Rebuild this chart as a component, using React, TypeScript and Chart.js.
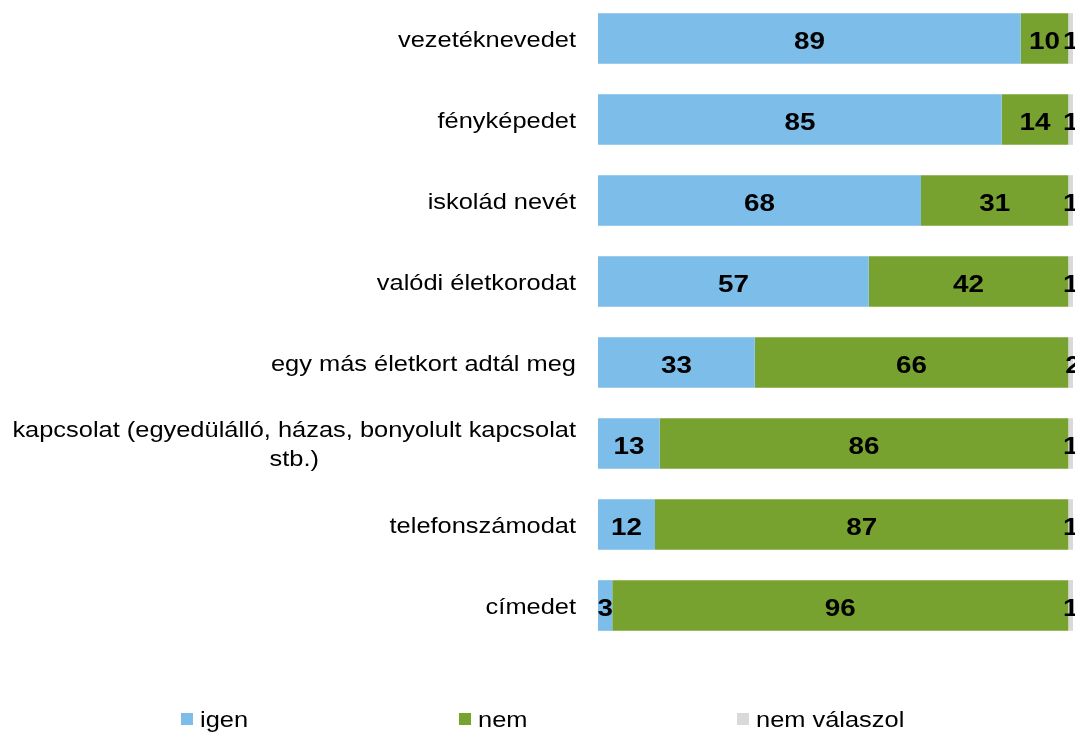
import React, { useEffect, useRef } from "react";
import { Chart, registerables } from "chart.js";

Chart.register(...registerables);

const categories: string[][] = [
  ["vezetéknevedet"],
  ["fényképedet"],
  ["iskolád nevét"],
  ["valódi életkorodat"],
  ["egy más életkort adtál meg"],
  ["kapcsolat (egyedülálló, házas, bonyolult kapcsolat", "stb.)"],
  ["telefonszámodat"],
  ["címedet"],
];

const igen = [89, 85, 68, 57, 33, 13, 12, 3];
const nem = [10, 14, 31, 42, 66, 86, 87, 96];
const nemValaszol = [1, 1, 1, 1, 2, 1, 1, 1];

const seriesNames = ["igen", "nem", "nem válaszol"];
const seriesColors = ["#7CBDE9", "#78A22F", "#D9D9D9"];

const FONT = "'Liberation Sans', Arial, sans-serif";
const HSCALE = 1.155;

function drawText(
  ctx: CanvasRenderingContext2D,
  text: string,
  x: number,
  y: number,
  align: "left" | "right" | "center",
  font: string,
  color: string,
  hs: number = HSCALE
) {
  ctx.save();
  ctx.font = font;
  ctx.fillStyle = color;
  ctx.textBaseline = "alphabetic";
  ctx.textAlign = align;
  ctx.translate(x, y);
  ctx.scale(hs, 1);
  ctx.fillText(text, 0, 0);
  ctx.restore();
}

function measure(ctx: CanvasRenderingContext2D, text: string, font: string) {
  ctx.save();
  ctx.font = font;
  const w = ctx.measureText(text).width * HSCALE;
  ctx.restore();
  return w;
}

// canvas is shifted up by 2px on the page
const SHIFT = 2;

const customText = {
  id: "customText",
  afterDatasetsDraw(chart: any) {
    const ctx: CanvasRenderingContext2D = chart.ctx;
    const yScale = chart.scales.y;
    const labelFont = `22px ${FONT}`;
    const lineH = 29;
    const rightEdge = 576;
    // category labels
    categories.forEach((lines, i) => {
      const cy = yScale.getPixelForValue(i);
      const widths = lines.map((l) => measure(ctx, l, labelFont));
      const maxW = Math.max(...widths);
      const centerX = rightEdge - maxW / 2;
      const n = lines.length;
      lines.forEach((l, j) => {
        const baseY = cy + 8 + (j - (n - 1) / 2) * lineH;
        drawText(ctx, l, centerX, baseY, "center", labelFont, "#000");
      });
    });
    // data labels
    const valFont = `bold 23px ${FONT}`;
    chart.data.datasets.forEach((ds: any, di: number) => {
      const meta = chart.getDatasetMeta(di);
      meta.data.forEach((bar: any, i: number) => {
        const v = ds.data[i];
        const cx = (bar.x + bar.base) / 2;
        drawText(ctx, String(v), cx, bar.y + 10, "center", valFont, "#000", 1.21);
      });
    });
    // legend
    const legendFont = `22px ${FONT}`;
    seriesNames.forEach((name, k) => {
      const x0 = 181 + k * 278;
      ctx.save();
      ctx.fillStyle = seriesColors[k];
      ctx.fillRect(x0, 713 + SHIFT, 12, 12);
      ctx.restore();
      drawText(ctx, name, x0 + 19, 727 + SHIFT, "left", legendFont, "#000");
    });
  },
};

export default function App() {
  const ref = useRef<HTMLCanvasElement | null>(null);
  useEffect(() => {
    document.body.style.margin = "0";
    const canvas = ref.current!;
    const chart = new Chart(canvas, {
      type: "bar",
      data: {
        labels: categories.map((c) => c.join(" ")),
        datasets: [
          { label: seriesNames[0], data: igen, backgroundColor: seriesColors[0] },
          { label: seriesNames[1], data: nem, backgroundColor: seriesColors[1] },
          { label: seriesNames[2], data: nemValaszol, backgroundColor: seriesColors[2] },
        ],
      },
      options: {
        indexAxis: "y",
        animation: false,
        responsive: false,
        maintainAspectRatio: false,
        layout: { padding: { left: 598, right: 2, top: 0, bottom: 87 } },
        datasets: {
          bar: { categoryPercentage: 1, barPercentage: 0.625, borderWidth: 0 },
        },
        scales: {
          x: { stacked: true, min: 0, max: 100, display: false },
          y: { stacked: true, display: false },
        },
        plugins: {
          legend: { display: false },
          tooltip: { enabled: false },
        },
      },
      plugins: [customText],
    });
    return () => chart.destroy();
  }, []);
  return (
    <div style={{ position: "absolute", left: 0, top: 0, width: 1075, height: 733, overflow: "hidden", background: "#fff" }}>
      <canvas ref={ref} width={1075} height={735} style={{ position: "absolute", left: 0, top: -SHIFT }} />
    </div>
  );
}
